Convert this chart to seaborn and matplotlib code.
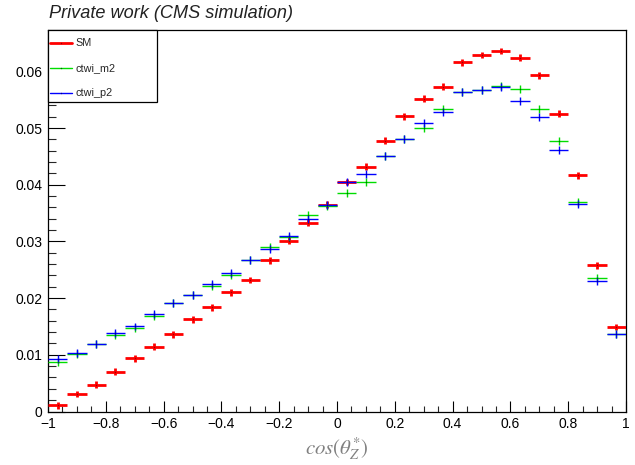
import numpy as np
import matplotlib
matplotlib.use("Agg")
import matplotlib.pyplot as plt
import seaborn as sns
from matplotlib.ticker import MultipleLocator, FuncFormatter
from matplotlib.patches import Rectangle

# ---------------- data ----------------
n_bins = 30
x_min, x_max = -1.0, 1.0

sm = [0.0011, 0.0031, 0.0047, 0.0070, 0.0094, 0.0114, 0.0136, 0.0163, 0.0184, 0.0210,
      0.0232, 0.0267, 0.0301, 0.0333, 0.0365, 0.0405, 0.0432, 0.0478, 0.0521, 0.0552,
      0.0573, 0.0616, 0.0629, 0.0636, 0.0624, 0.0593, 0.0525, 0.0417, 0.0258, 0.0149]

ctwi_m2 = [0.0087, 0.0102, 0.0119, 0.0135, 0.0148, 0.0169, 0.0191, 0.0205, 0.0222, 0.0241,
           0.0267, 0.0290, 0.0307, 0.0346, 0.0363, 0.0385, 0.0405, 0.0450, 0.0481, 0.0500,
           0.0533, 0.0564, 0.0567, 0.0575, 0.0569, 0.0533, 0.0478, 0.0369, 0.0236, 0.0137]

ctwi_p2 = [0.0092, 0.0104, 0.0119, 0.0139, 0.0150, 0.0172, 0.0191, 0.0205, 0.0225, 0.0244,
           0.0267, 0.0287, 0.0310, 0.0340, 0.0365, 0.0405, 0.0419, 0.0451, 0.0481, 0.0509,
           0.0529, 0.0564, 0.0567, 0.0573, 0.0547, 0.0520, 0.0462, 0.0366, 0.0231, 0.0136]

y_err_sm = 0.0006
y_err_m2 = 0.0007
y_err_p2 = 0.0007

series_names = ["SM", "ctwi_m2", "ctwi_p2"]
x_ticks = [-1, -0.8, -0.6, -0.4, -0.2, 0, 0.2, 0.4, 0.6, 0.8, 1]
y_ticks = [0, 0.01, 0.02, 0.03, 0.04, 0.05, 0.06]

# ---------------- style ----------------
sns.set_theme(style="ticks")
plt.rcParams["font.family"] = ["Liberation Sans", "DejaVu Sans"]
plt.rcParams["mathtext.fontset"] = "stix"

W, H = 635, 465
fig = plt.figure(figsize=(W / 100, H / 100), dpi=100)
ax = fig.add_axes([48 / W, 1 - 411.5 / H, 578 / W, 381.5 / H])

edges = np.linspace(x_min, x_max, n_bins + 1)
centers = 0.5 * (edges[:-1] + edges[1:])
half_w = 0.5 * (edges[1] - edges[0])

styles = [
    (sm, y_err_sm, "#ff0000", "#990000", 2.0),
    (ctwi_m2, y_err_m2, "#00dd00", "#006600", 1.0),
    (ctwi_p2, y_err_p2, "#0000ff", "#000088", 1.0),
]
handles = []
for (vals, err, col, dark, lw), name in zip(styles, series_names):
    ax.errorbar(centers, vals, xerr=half_w, yerr=err, fmt="none",
                ecolor=col, elinewidth=lw, capsize=0, zorder=3)
    ax.plot(centers, vals, linestyle="none", marker="o", markersize=1.0,
            markeredgewidth=0, color=dark, zorder=4)
    h, = ax.plot([], [], color=col, lw=lw, label=name, marker="o",
                 markersize=1.0, markeredgewidth=0, markerfacecolor=dark)
    handles.append(h)

ax.set_xlim(x_min, x_max)
ax.set_ylim(0, 0.0673)

ax.set_xticks(x_ticks)
ax.set_yticks(y_ticks)
ax.xaxis.set_minor_locator(MultipleLocator(0.05))
ax.yaxis.set_minor_locator(MultipleLocator(0.002))


def xfmt(v, pos):
    if abs(v) < 1e-9:
        return "0"
    s = f"{v:g}"
    return s.replace("-", "\u2212")


def yfmt(v, pos):
    if abs(v) < 1e-12:
        return "0"
    return f"{v:.2f}"


ax.xaxis.set_major_formatter(FuncFormatter(xfmt))
ax.yaxis.set_major_formatter(FuncFormatter(yfmt))

ax.tick_params(axis="x", which="major", direction="in", length=8.2, width=0.8,
               labelsize=10, pad=4, colors="black", top=False)
ax.tick_params(axis="x", which="minor", direction="in", length=4.1, width=0.8,
               top=False)
ax.tick_params(axis="y", which="major", direction="in", length=12.2, width=0.8,
               labelsize=10, pad=4, colors="black", right=False)
ax.tick_params(axis="y", which="minor", direction="in", length=6.1, width=0.8,
               right=False)

for sp in ax.spines.values():
    sp.set_visible(True)
    sp.set_color("black")
    sp.set_linewidth(0.9)

ax.set_xlabel(r"$cos(\theta^{*}_{Z})$", fontsize=15, color="#808080", labelpad=3)

fig.text(49 / W, 1 - 14 / H, "Private work (CMS simulation)", fontsize=13.1,
         style="italic", ha="left", va="center", color="#222222")

# legend frame (ROOT-style box in the top-left corner of the frame)
box = Rectangle((48 / W, 1 - 102 / H), (157 - 48) / W, (102 - 30) / H,
                transform=fig.transFigure, facecolor="white", edgecolor="black",
                linewidth=0.9, zorder=5)
fig.patches.append(box)

leg = fig.legend(handles=handles, loc="upper left",
                 bbox_to_anchor=(50 / W, 1 - 38.5 / H), bbox_transform=fig.transFigure,
                 borderaxespad=0, borderpad=0, fontsize=7.8, frameon=False,
                 handlelength=2.0, handletextpad=0.36, labelspacing=1.38)
leg.set_zorder(6)

fig.savefig("out.png", dpi=100)
